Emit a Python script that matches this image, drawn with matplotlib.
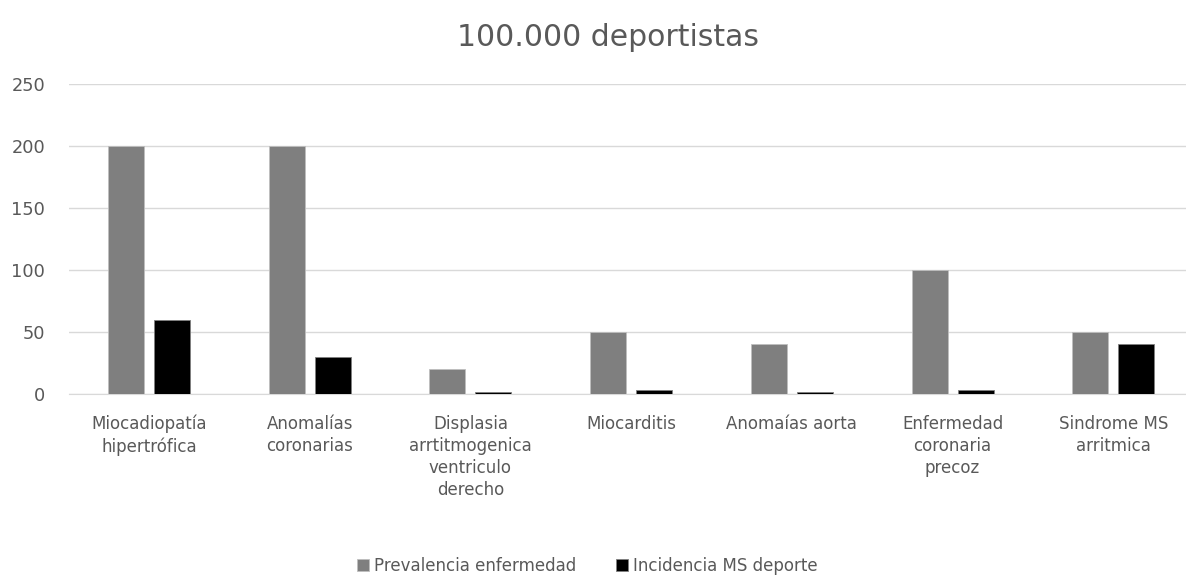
import matplotlib.pyplot as plt
import numpy as np

plt.rcParams['font.family'] = ['DejaVu Sans']

categorias = ['Miocadiopatía\nhipertrófica', 'Anomalías\ncoronarias',
              'Displasia\narrtitmogenica\nventriculo\nderecho', 'Miocarditis',
              'Anomaías aorta', 'Enfermedad\ncoronaria\nprecoz', 'Sindrome MS\narritmica']
prevalencia = [200, 200, 20, 50, 40, 100, 50]
incidencia = [60, 30, 1.5, 3, 1.5, 3, 40]

W, H = 1186, 576
fig = plt.figure(figsize=(W / 100, H / 100), dpi=100)
left, paso = 68.7, 160.7  # px: borde izquierdo del área y ancho de cada categoría
ax = fig.add_axes([left / W, 1 - 394 / H, (W - left) / W, 310 / H])

x = np.arange(len(categorias))
w = 0.224
ax.bar(x - 0.143, prevalencia, w, color='#7f7f7f', edgecolor='#bfbfbf', linewidth=0.6,
       label='Prevalencia enfermedad', zorder=3)
ax.bar(x + 0.143, incidencia, w, color='#000000', edgecolor='#7f7f7f', linewidth=0.6,
       label='Incidencia MS deporte', zorder=3)

ax.set_xlim(-0.5, -0.5 + (W - left) / paso)
ax.set_ylim(0, 250)
ax.set_yticks(range(0, 251, 50))
ax.yaxis.grid(True, color='#d9d9d9', linewidth=1)
ax.set_axisbelow(True)
for s in ['top', 'right', 'left']:
    ax.spines[s].set_visible(False)
ax.spines['bottom'].set_color('#d9d9d9')
ax.tick_params(axis='both', length=0, colors='#595959', labelsize=12)
ax.tick_params(axis='y', pad=17, labelsize=12.8)
ax.tick_params(axis='x', pad=15)
ax.set_xticks(x)
ax.set_xticklabels(categorias, linespacing=1.3)

fig.text(608 / W, 1 - 37 / H, '100.000 deportistas', ha='center', va='center',
         fontsize=21.5, color='#595959')
fig.legend(loc='center', bbox_to_anchor=(0.495, 1 - 566 / H), ncol=2, frameon=False,
           fontsize=12, labelcolor='#595959', handlelength=0.7, handleheight=0.7,
           handletextpad=0.3, columnspacing=2.4)

fig.savefig('out.png', dpi=100)
